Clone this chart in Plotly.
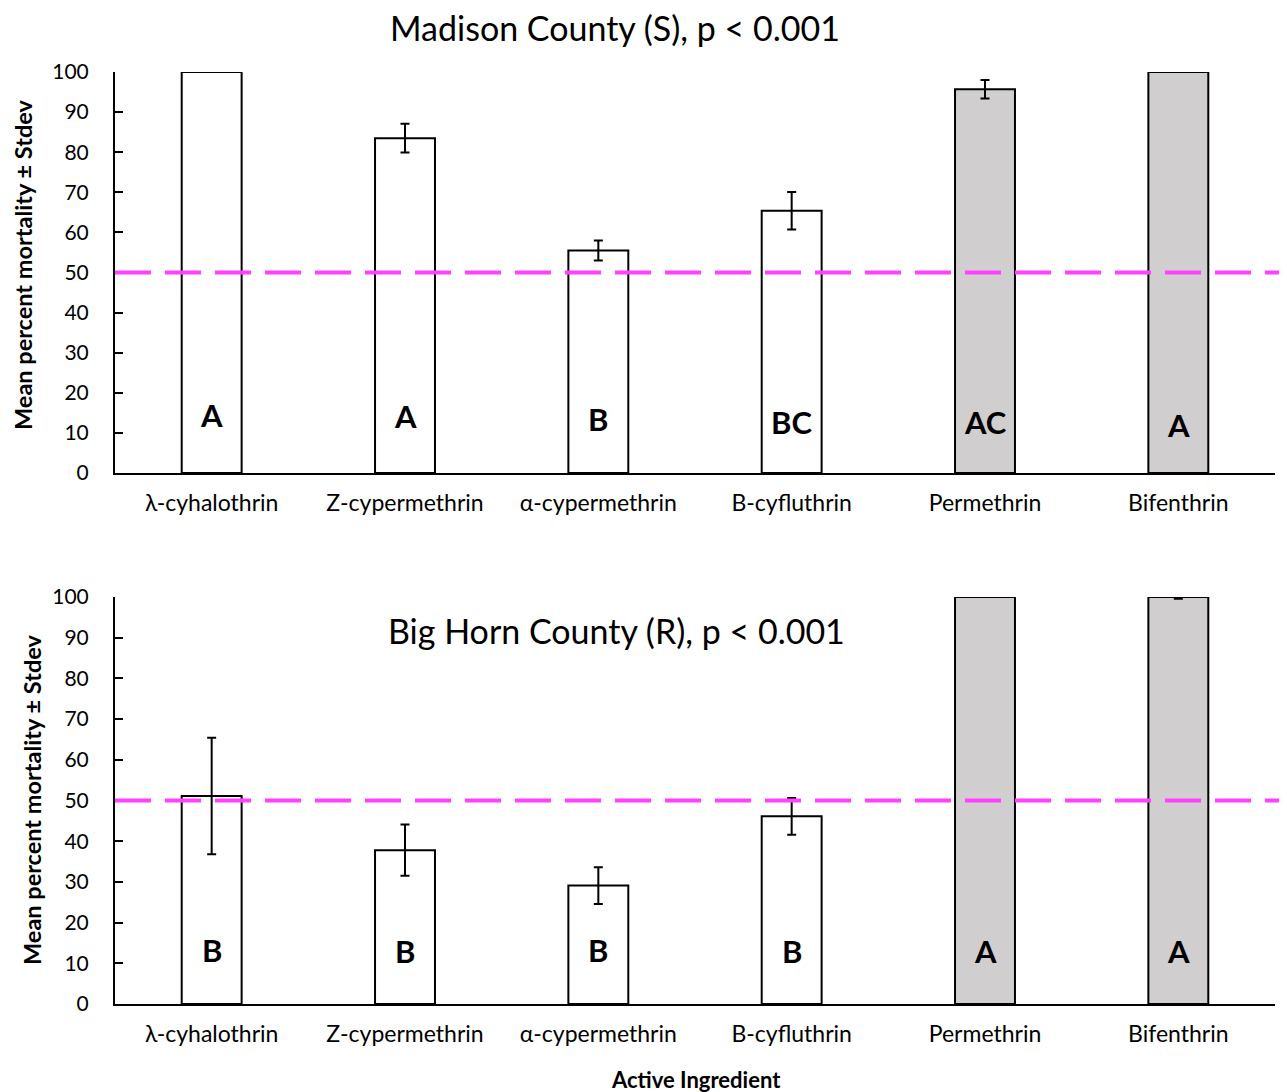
import plotly.graph_objects as go
from plotly.subplots import make_subplots

categories = ["λ-cyhalothrin", "Z-cypermethrin", "α-cypermethrin", "B-cyfluthrin", "Permethrin", "Bifenthrin"]

madison_mean = [100, 83.5, 55.5, 65.4, 95.7, 100]
madison_sd = [0, 3.6, 2.5, 4.7, 2.3, 0]
madison_letters = ["A", "A", "B", "BC", "AC", "A"]
madison_letter_y = [14.5, 14.2, 13.5, 12.7, 12.7, 12.0]

bighorn_mean = [51.1, 37.8, 29.1, 46.1, 100, 100]
bighorn_sd = [14.3, 6.3, 4.5, 4.5, 0, 0.4]
bighorn_letters = ["B", "B", "B", "B", "A", "A"]
bighorn_letter_y = [13.3, 13.0, 13.3, 13.0, 13.0, 13.0]

bar_colors = ["white", "white", "white", "white", "#D0CECF", "#D0CECF"]
threshold = 50

OFF = 8  # page body margin
W, H = 1287 - OFF, 1092 - OFF
L, R = 115 - OFF, 12
FONT = "Lato"

fig = make_subplots(rows=2, cols=1, vertical_spacing=0.1)

for row, (mean, sd) in enumerate([(madison_mean, madison_sd), (bighorn_mean, bighorn_sd)], start=1):
    fig.add_trace(go.Bar(
        x=categories, y=mean, width=0.31,
        marker=dict(color=bar_colors, line=dict(color="black", width=2)),
        error_y=dict(type="data", array=sd, visible=True, color="black", thickness=2, width=4.5),
        showlegend=False,
    ), row=row, col=1)

def px_x(px):
    return (px - OFF - L) / (W - L - R)

def px_y(py):
    return 1 - (py - OFF) / H

top_dom = [px_y(473), px_y(72)]
bot_dom = [px_y(1004), px_y(597)]

axis_common = dict(showline=True, linecolor="black", linewidth=2, showgrid=False, zeroline=False,
                   automargin=False)
xcommon = dict(domain=[0, 1], range=[-0.5, 5.5], ticks="", tickfont=dict(size=23, family=FONT),
               ticklabelstandoff=8, **axis_common)
ycommon = dict(range=[0, 100], dtick=10, ticks="inside", ticklen=8, tickwidth=2,
               tickcolor="black", tickfont=dict(size=21, family=FONT), ticklabelstandoff=20, **axis_common)
fig.update_layout(
    template="none",
    width=W, height=H,
    margin=dict(l=L, r=R, t=0, b=0, pad=0, autoexpand=False),
    paper_bgcolor="white", plot_bgcolor="white",
    font=dict(family=FONT, color="black"),
    xaxis=xcommon, xaxis2=xcommon,
    yaxis=dict(domain=top_dom, **ycommon),
    yaxis2=dict(domain=bot_dom, **ycommon),
)

for yref in ["y", "y2"]:
    fig.add_shape(type="line", xref="paper", yref=yref, x0=0, x1=px_x(1283),
                  y0=threshold, y1=threshold, line=dict(color="#FF40FF", width=4, dash="36px,14px"),
                  layer="above")

for xref, yref, letters, ly in [("x", "y", madison_letters, madison_letter_y),
                                ("x2", "y2", bighorn_letters, bighorn_letter_y)]:
    for c, t, yy in zip(categories, letters, ly):
        fig.add_annotation(x=c, y=yy, xref=xref, yref=yref, text="<b>%s</b>" % t, showarrow=False,
                           font=dict(size=31, family=FONT, color="black"))

fig.add_annotation(x=px_x(615), y=px_y(28), xref="paper", yref="paper", text="Madison County (S), p < 0.001",
                   showarrow=False, font=dict(size=34, family=FONT), xanchor="center", yanchor="middle")
fig.add_annotation(x=px_x(616), y=px_y(630), xref="paper", yref="paper", text="Big Horn County (R), p < 0.001",
                   showarrow=False, font=dict(size=34, family=FONT), xanchor="center", yanchor="middle")

fig.add_annotation(x=px_x(23), y=px_y(265), xref="paper", yref="paper", text="<b>Mean percent mortality ± Stdev</b>",
                   showarrow=False, textangle=-90, font=dict(size=23.5, family=FONT), xanchor="center", yanchor="middle")
fig.add_annotation(x=px_x(32), y=px_y(800), xref="paper", yref="paper", text="<b>Mean percent mortality ± Stdev</b>",
                   showarrow=False, textangle=-90, font=dict(size=23.5, family=FONT), xanchor="center", yanchor="middle")
fig.add_annotation(x=px_x(696), y=px_y(1079), xref="paper", yref="paper", text="<b>Active Ingredient</b>",
                   showarrow=False, font=dict(size=22, family=FONT), xanchor="center", yanchor="middle")

fig.write_html("out.html")
